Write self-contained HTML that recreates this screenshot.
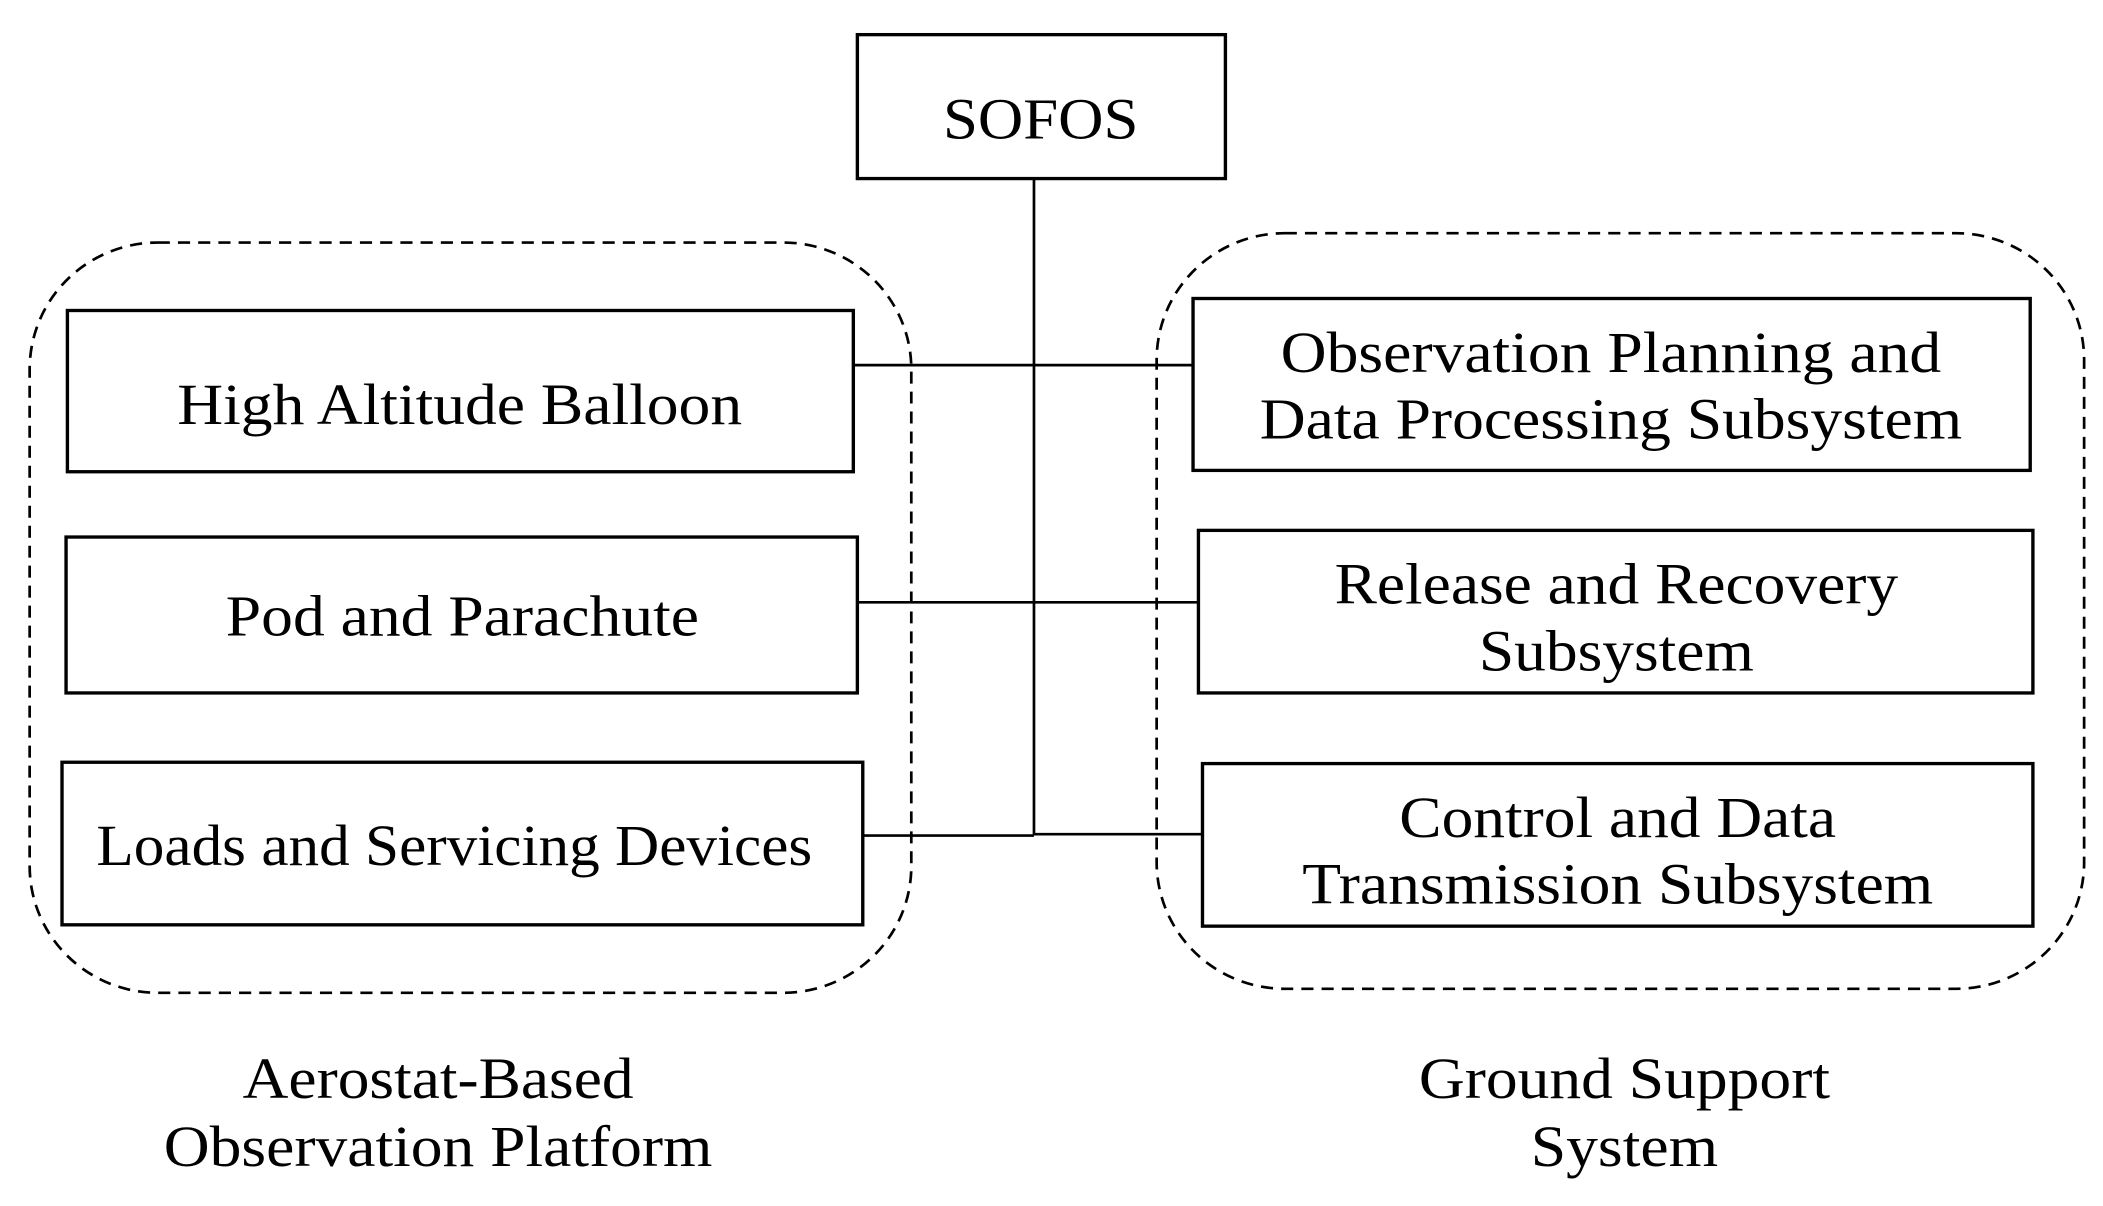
<!DOCTYPE html>
<html><head><meta charset="utf-8"><style>
html,body{margin:0;padding:0;background:#fff;width:2103px;height:1206px;overflow:hidden}
svg{display:block}
text{font-family:"Liberation Serif",serif;font-size:44px;fill:#000;text-anchor:middle}
</style></head><body>
<svg width="2103" height="1206" viewBox="0 0 1560 905" preserveAspectRatio="none">
<g fill="none" stroke="#000">
<rect x="22" y="182" width="654" height="563" rx="95" stroke-width="2" stroke-dasharray="9,6"/>
<rect x="858" y="175" width="688" height="567" rx="95" stroke-width="2" stroke-dasharray="9,6"/>
<g stroke-width="2.5">
<rect x="636" y="26" width="273" height="108"/>
<rect x="50" y="233" width="583" height="121"/>
<rect x="49" y="403" width="587" height="117"/>
<rect x="46" y="572" width="594" height="122"/>
<rect x="885" y="224" width="621" height="129"/>
<rect x="889" y="398" width="619" height="122"/>
<rect x="892" y="573" width="616" height="122"/>
</g>
<g stroke-width="2">
<line x1="767" y1="134" x2="767" y2="627"/>
<line x1="633" y1="274" x2="885" y2="274"/>
<line x1="636" y1="452" x2="889" y2="452"/>
<line x1="640" y1="627" x2="767" y2="627"/>
<line x1="767" y1="626" x2="892" y2="626"/>
</g>
</g>
<text x="772" y="104" textLength="145" lengthAdjust="spacingAndGlyphs">SOFOS</text>
<text x="341" y="318" textLength="419" lengthAdjust="spacingAndGlyphs">High Altitude Balloon</text>
<text x="343" y="477" textLength="351" lengthAdjust="spacingAndGlyphs">Pod and Parachute</text>
<text x="337" y="649" textLength="531" lengthAdjust="spacingAndGlyphs">Loads and Servicing Devices</text>
<text x="1195" y="279" textLength="490" lengthAdjust="spacingAndGlyphs">Observation Planning and</text>
<text x="1195" y="329" textLength="521" lengthAdjust="spacingAndGlyphs">Data Processing Subsystem</text>
<text x="1199" y="453" textLength="418" lengthAdjust="spacingAndGlyphs">Release and Recovery</text>
<text x="1199" y="503" textLength="204" lengthAdjust="spacingAndGlyphs">Subsystem</text>
<text x="1200" y="628" textLength="324" lengthAdjust="spacingAndGlyphs">Control and Data</text>
<text x="1200" y="678" textLength="468" lengthAdjust="spacingAndGlyphs">Transmission Subsystem</text>
<text x="325" y="824" textLength="290" lengthAdjust="spacingAndGlyphs">Aerostat-Based</text>
<text x="325" y="875" textLength="407" lengthAdjust="spacingAndGlyphs">Observation Platform</text>
<text x="1205" y="824" textLength="305" lengthAdjust="spacingAndGlyphs">Ground Support</text>
<text x="1205" y="875" textLength="139" lengthAdjust="spacingAndGlyphs">System</text>
</svg>
</body></html>
